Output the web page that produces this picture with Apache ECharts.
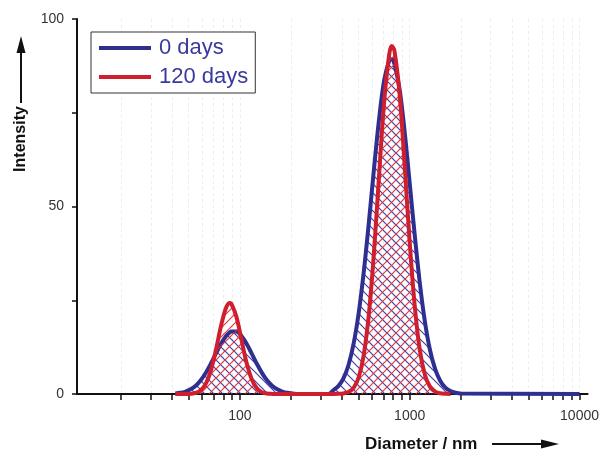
<!DOCTYPE html>
<html>
<head>
<meta charset="utf-8">
<script src="https://cdn.jsdelivr.net/npm/echarts@6/dist/echarts.min.js"></script>
<style>
  html, body { margin: 0; padding: 0; background: #ffffff; }
  #chart { width: 602px; height: 453px; }
</style>
</head>
<body>
<div id="chart"></div>
<script>
// Hydrodynamic diameter (nm) at which the intensity distributions are sampled
const diameters = [
  41.7, 44.7, 47.9, 51.3, 55.0, 58.9, 63.1, 67.6, 72.4, 77.6,
  83.2, 87.3, 89.1, 95.5, 102.3, 109.6, 117.5, 125.9, 134.9, 144.5,
  154.9, 166.0, 177.8, 190.5, 204.2, 218.8, 331.1, 354.8, 380.2, 407.4,
  436.5, 467.7, 501.2, 537.0, 575.4, 616.6, 660.7, 707.9, 758.6, 785.2,
  812.8, 871.0, 933.3, 1000, 1072, 1148, 1230, 1318, 1413, 1514,
  1622, 1738, 1862, 1995, 10000
];

// Intensity (%) after 0 days
const days0 = [
  0.15, 0.32, 0.66, 1.25, 2.23, 3.69, 5.68, 8.13, 10.83, 13.44,
  15.51, 16.43, 16.65, 16.64, 15.48, 13.39, 10.78, 8.08, 5.63, 3.65,
  2.21, 1.24, 0.65, 0.31, 0.14, 0, 0, 0.98, 2.09, 4.16,
  7.74, 13.42, 21.67, 32.66, 45.88, 60.1, 73.4, 83.7, 88.9, 89.25,
  88.05, 81.4, 70.1, 56.3, 42.2, 29.5, 19.2, 11.66, 6.61, 3.49,
  1.72, 0.79, 0.34, 0.13, 0
];

// Intensity (%) after 120 days
const days120 = [
  0, 0, 0.01, 0.07, 0.29, 0.99, 2.76, 6.31, 11.85, 18.29,
  23.15, 24.3, 24.08, 20.57, 14.43, 8.31, 3.93, 1.53, 0.49, 0.13,
  0.03, 0, 0, 0, 0, 0, 0, 0, 0.04, 0.15,
  0.53, 1.66, 4.47, 10.5, 21.4, 37.9, 58.4, 78.1, 90.7, 92.77,
  91.6, 80.3, 61.2, 40.5, 23.3, 11.64, 5.06, 1.91, 0.63, 0.18,
  0.05, 0, null, null, null
];

const seriesNames = ['0 days', '120 days'];
const xTickValues = [20, 30, 40, 50, 60, 70, 80, 90, 100,
                     200, 300, 400, 500, 600, 700, 800, 900, 1000,
                     2000, 3000, 4000, 5000, 6000, 7000, 8000, 9000, 10000];
const xLabelValues = [100, 1000, 10000];
const yLabelValues = [0, 50, 100];

const BLUE = '#2e2f8f';
const RED = '#cf1f2e';

// Diagonal hatch tile used as an area fill; dir 1 = '/', dir -1 = '\'
function hatch(color, dir) {
  const s = 9;
  const c = document.createElement('canvas');
  c.width = s; c.height = s;
  const g = c.getContext('2d');
  g.strokeStyle = color;
  g.lineWidth = 1.2;
  g.beginPath();
  if (dir > 0) {
    g.moveTo(-1, s + 1); g.lineTo(s + 1, -1);
    g.moveTo(-1, 1); g.lineTo(1, -1);
    g.moveTo(s - 1, s + 1); g.lineTo(s + 1, s - 1);
  } else {
    g.moveTo(-1, -1); g.lineTo(s + 1, s + 1);
    g.moveTo(s - 1, -1); g.lineTo(s + 1, 1);
    g.moveTo(-1, s - 1); g.lineTo(1, s + 1);
  }
  g.stroke();
  return { image: c, repeat: 'repeat' };
}

function pairs(values) {
  const out = [];
  diameters.forEach((d, i) => { if (values[i] !== null) out.push([d, values[i]]); });
  return out;
}

const FONT = '"Liberation Sans", Arial, Helvetica, sans-serif';
const chart = echarts.init(document.getElementById('chart'), null, { renderer: 'canvas' });

chart.setOption({
  animation: false,
  backgroundColor: '#ffffff',
  grid: { left: 77, right: 14, top: 19, bottom: 59, containLabel: false },
  legend: {
    left: 91,
    top: 32,
    orient: 'vertical',
    backgroundColor: '#ffffff',
    borderColor: '#333333',
    borderWidth: 1,
    padding: [5, 7, 5, 8],
    itemWidth: 52,
    itemHeight: 4,
    itemGap: 7,
    icon: 'rect',
    textStyle: { color: '#3a3a9e', fontSize: 22, fontFamily: FONT, padding: [0, 0, 0, 3] },
    data: seriesNames
  },
  xAxis: {
    type: 'log',
    logBase: 10,
    min: 11,
    max: 11150,
    axisLine: { show: true, lineStyle: { color: '#111111', width: 2 } },
    axisTick: { show: true, customValues: xTickValues, length: 6, lineStyle: { color: '#111111', width: 1.5 } },
    axisLabel: {
      customValues: xLabelValues,
      formatter: v => String(Math.round(v)),
      margin: 15,
      fontSize: 14,
      color: '#333333',
      fontFamily: FONT
    },
    splitLine: { show: true, lineStyle: { color: '#ececec', type: [3, 3], width: 1 } },
    minorTick: { show: false }
  },
  yAxis: {
    type: 'value',
    min: 0,
    max: 100,
    interval: 25,
    axisLine: { show: true, lineStyle: { color: '#111111', width: 2 } },
    axisTick: { show: true, length: 5, lineStyle: { color: '#111111', width: 1.5 } },
    axisLabel: {
      formatter: v => (yLabelValues.indexOf(v) >= 0 ? String(v) : ''),
      margin: 13,
      fontSize: 14,
      color: '#333333',
      fontFamily: FONT
    },
    splitLine: { show: false }
  },
  series: [
    {
      name: seriesNames[0],
      type: 'line',
      data: pairs(days0),
      color: BLUE,
      symbol: 'none',
      smooth: 0.35,
      lineStyle: { color: BLUE, width: 4 },
      areaStyle: { color: hatch('rgba(55,55,165,0.95)', -1), opacity: 1 },
      z: 2
    },
    {
      name: seriesNames[1],
      type: 'line',
      data: pairs(days120),
      color: RED,
      symbol: 'none',
      smooth: 0.35,
      lineStyle: { color: RED, width: 4 },
      areaStyle: { color: hatch('rgba(225,45,55,0.95)', 1), opacity: 1 },
      z: 3
    }
  ],
  graphic: [
    // y axis title with upward arrow
    {
      type: 'text', x: 21, y: 139, rotation: Math.PI / 2,
      style: { text: 'Intensity', font: 'bold 16px ' + FONT, fill: '#111111', align: 'center', verticalAlign: 'middle' }
    },
    { type: 'line', shape: { x1: 21, y1: 103, x2: 21, y2: 50 }, style: { stroke: '#111111', lineWidth: 2 } },
    { type: 'polygon', shape: { points: [[21, 36], [16.5, 53], [25.5, 53]] }, style: { fill: '#111111' } },
    // x axis title with rightward arrow
    {
      type: 'text', x: 365, y: 444,
      style: { text: 'Diameter / nm', font: 'bold 17px ' + FONT, fill: '#111111', align: 'left', verticalAlign: 'middle' }
    },
    { type: 'line', shape: { x1: 492, y1: 444, x2: 545, y2: 444 }, style: { stroke: '#111111', lineWidth: 2 } },
    { type: 'polygon', shape: { points: [[559, 444], [541, 439.5], [541, 448.5]] }, style: { fill: '#111111' } }
  ]
});
</script>
</body>
</html>
